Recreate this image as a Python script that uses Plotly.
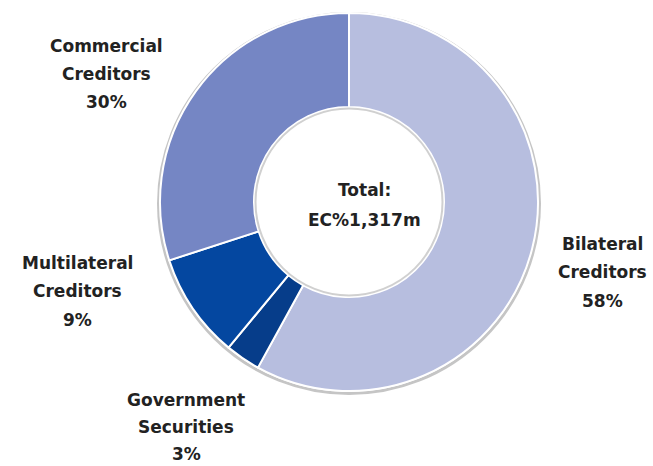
import plotly.graph_objects as go

W, H = 653, 466

# Debt composition
categories = ["Bilateral Creditors", "Government Securities", "Multilateral Creditors", "Commercial Creditors"]
shares = [58, 3, 9, 30]
colors = ["#b7bedf", "#063d8a", "#0447a0", "#7586c4"]
total_label = ["Total:", "EC%1,317m"]

# label block centres (px) for each category, same order as categories
label_pos = [(602, 272), (186, 427), (77, 291), (106, 74)]

cx, cy, r_out, r_in = 349, 202, 189, 95


def px(x):
    return x / W


def py(y):
    return (H - y) / H


fig = go.Figure()
fig.add_trace(go.Pie(
    labels=categories,
    values=shares,
    sort=False,
    direction="clockwise",
    rotation=0,
    hole=r_in / r_out,
    marker=dict(colors=colors, line=dict(color="white", width=2)),
    textinfo="none",
    hoverinfo="label+percent",
    showlegend=False,
    domain=dict(x=[px(cx - r_out), px(cx + r_out)], y=[py(cy + r_out), py(cy - r_out)]),
))

font = dict(family="DejaVu Sans", size=17, color="#222222")

annotations = []
for name, share, (lx, ly) in zip(categories, shares, label_pos):
    lines = name.split(" ") + [f"{share}%"]
    gap = 27 if ly > 400 else 28.5
    top = ly - gap * (len(lines) - 1) / 2
    for i, t in enumerate(lines):
        annotations.append(dict(
            text=f"<b>{t}</b>", x=px(lx), y=py(top + i * gap),
            xref="paper", yref="paper", showarrow=False,
            xanchor="center", yanchor="middle", font=font,
        ))

for i, t in enumerate(total_label):
    annotations.append(dict(
        text=f"<b>{t}</b>", x=px(364), y=py(190 + i * 30),
        xref="paper", yref="paper", showarrow=False,
        xanchor="center", yanchor="middle", font=font,
    ))

shapes = [
    # soft rim around the outer edge
    dict(type="circle", xref="paper", yref="paper", layer="below",
         x0=px(cx - r_out - 1.5), x1=px(cx + r_out + 1.5),
         y0=py(cy + r_out + 2.5), y1=py(cy - r_out + 0.5),
         line=dict(color="rgba(90,90,90,0.35)", width=3)),
    # rim inside the hole
    dict(type="circle", xref="paper", yref="paper", layer="above",
         x0=px(cx - r_in + 1.5), x1=px(cx + r_in - 1.5),
         y0=py(cy + r_in - 1.5), y1=py(cy - r_in + 1.5),
         line=dict(color="rgba(120,120,120,0.35)", width=2)),
]

fig.update_layout(
    width=W, height=H,
    margin=dict(l=0, r=0, t=0, b=0),
    paper_bgcolor="white", plot_bgcolor="white",
    annotations=annotations, shapes=shapes,
)

fig.write_html("out.html")
